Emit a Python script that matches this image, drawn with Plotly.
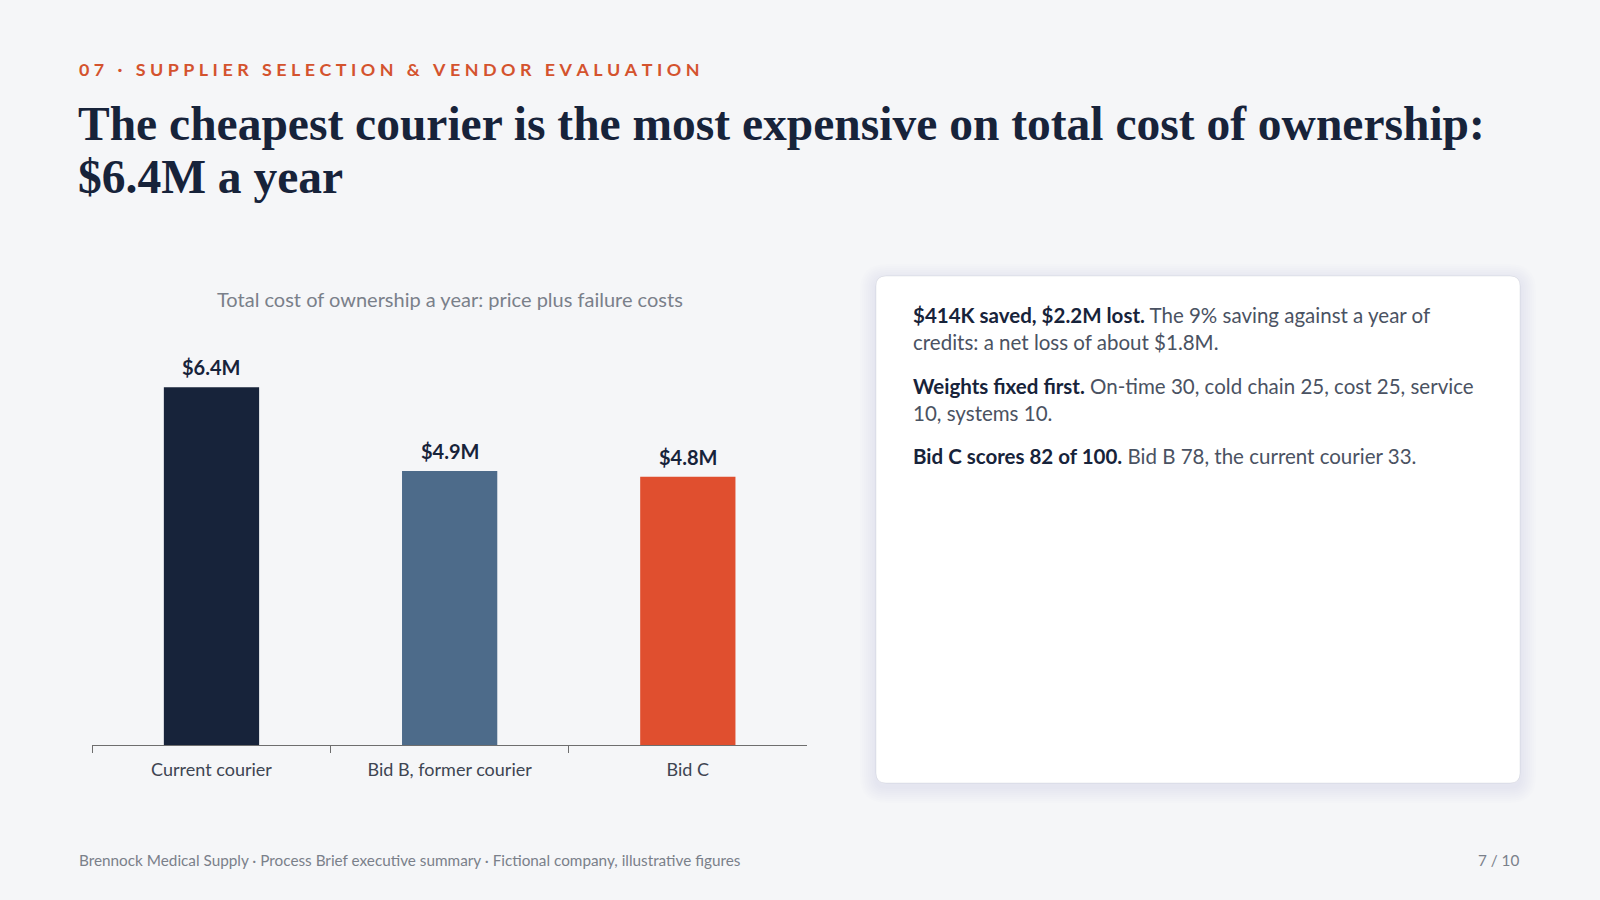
import plotly.graph_objects as go

# ---- data ----
categories = ["Current courier", "Bid B, former courier", "Bid C"]
tco_musd = [6.4, 4.9, 4.8]
value_labels = ["$6.4M", "$4.9M", "$4.8M"]

kicker = "07 · SUPPLIER SELECTION & VENDOR EVALUATION"
title_lines = ["The cheapest courier is the most expensive on total cost of ownership:",
               "$6.4M a year"]
chart_title = "Total cost of ownership a year: price plus failure costs"
card_paragraphs = [
    ("$414K saved, $2.2M lost.", " The 9% saving against a year of<br>credits: a net loss of about $1.8M."),
    ("Weights fixed first.", " On-time 30, cold chain 25, cost 25, service<br>10, systems 10."),
    ("Bid C scores 82 of 100.", " Bid B 78, the current courier 33."),
]
footer = "Brennock Medical Supply · Process Brief executive summary · Fictional company, illustrative figures"
page = "7 / 10"

# ---- style ----
bar_colors = ["#17233A", "#4D6B8A", "#E04F2F"]
W, H = 1600, 900
BG = "#F5F6F8"
NAVY = "#17233A"
ORANGE = "#D4532E"
GREY = "#4A5262"
LIGHT = "#7A808A"


def px(x):
    return x / W


def py(y):
    return 1 - y / H


def rrect(x0, y0, x1, y1, r):
    # rounded rectangle path in paper coords (inputs in px, y down)
    rx, ry = r / W, r / H
    X0, X1 = px(x0), px(x1)
    Y0, Y1 = py(y1), py(y0)  # bottom, top
    return (f"M {X0+rx},{Y0} L {X1-rx},{Y0} Q {X1},{Y0} {X1},{Y0+ry} "
            f"L {X1},{Y1-ry} Q {X1},{Y1} {X1-rx},{Y1} L {X0+rx},{Y1} "
            f"Q {X0},{Y1} {X0},{Y1-ry} L {X0},{Y0+ry} Q {X0},{Y0} {X0+rx},{Y0} Z")


fig = go.Figure()
fig.add_trace(go.Bar(
    x=categories, y=tco_musd, marker=dict(color=bar_colors, line=dict(width=0)),
    width=0.4, hoverinfo="skip", showlegend=False,
))

axis_bottom = 745
unit_px = 55.9
y_max = 7.0
axis_top = axis_bottom - y_max * unit_px

fig.update_layout(
    width=W, height=H,
    margin=dict(l=0, r=0, t=0, b=0),
    paper_bgcolor=BG, plot_bgcolor="rgba(0,0,0,0)",
    font=dict(family="Lato", color=GREY),
    xaxis=dict(domain=[px(92.4), px(806.9)], showline=True, linecolor="#6E6E6E", linewidth=1.3,
               ticks="outside", tickson="boundaries", ticklen=7, tickcolor="#6E6E6E", tickwidth=1.3,
               tickfont=dict(family="Lato", size=18, color="#3E4552"), showgrid=False,
               ticklabelstandoff=8, fixedrange=True),
    yaxis=dict(domain=[py(axis_bottom), py(axis_top)], range=[0, y_max], visible=False,
               fixedrange=True),
    bargap=0.6,
)

annotations = []
# value labels
for c, v, t in zip(categories, tco_musd, value_labels):
    annotations.append(dict(x=c, y=v, xref="x", yref="y", text=f"<b>{t}</b>", showarrow=False,
                            yanchor="bottom", yshift=6,
                            font=dict(family="Lato", size=20, color=NAVY)))

# kicker with letter spacing (four-per-em spaces between letters)
LS = "\u2005"
spaced = LS.join(ch if ch != " " else "\u00a0" for ch in kicker)
annotations.append(dict(x=px(77), y=py(82.5), xref="paper", yref="paper", text=f"<b>{spaced}</b>",
                        showarrow=False, xanchor="left", yanchor="bottom",
                        font=dict(family="Lato", size=17.9, color=ORANGE)))
# title
for i, line in enumerate(title_lines):
    annotations.append(dict(x=px(76), y=py(152 + 53 * i), xref="paper", yref="paper",
                            text=f"<b>{line}</b>", showarrow=False, xanchor="left", yanchor="bottom",
                            font=dict(family="Liberation Serif", size=47.5, color=NAVY)))
# chart title
annotations.append(dict(x=px(449.7), y=py(299), xref="paper", yref="paper", text=chart_title,
                        showarrow=False, xanchor="center", yanchor="middle",
                        font=dict(family="Lato", size=20, color=LIGHT)))
# card text
para_centers = [328, 399, 456]
for (b, rest), yc in zip(card_paragraphs, para_centers):
    annotations.append(dict(x=px(911), y=py(yc), xref="paper", yref="paper",
                            text=f"<span style='color:{NAVY}'><b>{b}</b></span>{rest}",
                            showarrow=False, xanchor="left", yanchor="middle", align="left",
                            font=dict(family="Lato", size=20.5, color=GREY)))
# footer
annotations.append(dict(x=px(77), y=py(860), xref="paper", yref="paper", text=footer,
                        showarrow=False, xanchor="left", yanchor="middle",
                        font=dict(family="Lato", size=15.3, color=LIGHT)))
annotations.append(dict(x=px(1521), y=py(860), xref="paper", yref="paper", text=page,
                        showarrow=False, xanchor="right", yanchor="middle",
                        font=dict(family="Lato", size=15.3, color=LIGHT)))
fig.update_layout(annotations=annotations)

# card with soft shadow
shapes = []
cx0, cy0, cx1, cy1 = 876, 276, 1520, 783
for i in range(8, 0, -1):
    g = i * 2
    shapes.append(dict(type="path", xref="paper", yref="paper", layer="below",
                       path=rrect(cx0 - g, cy0 - g + 4, cx1 + g, cy1 + g + 4, 10 + g),
                       fillcolor="rgba(30,40,70,0.008)", line=dict(width=0)))
shapes.append(dict(type="path", xref="paper", yref="paper", layer="below",
                   path=rrect(cx0, cy0, cx1, cy1, 10), fillcolor="#FFFFFF",
                   line=dict(color="rgba(20,30,50,0.07)", width=1)))
fig.update_layout(shapes=shapes)

fig.write_html("out.html",
               config={"displayModeBar": False},
               post_script="document.body.style.margin='0';"
                           "document.body.style.background='#F5F6F8';")
